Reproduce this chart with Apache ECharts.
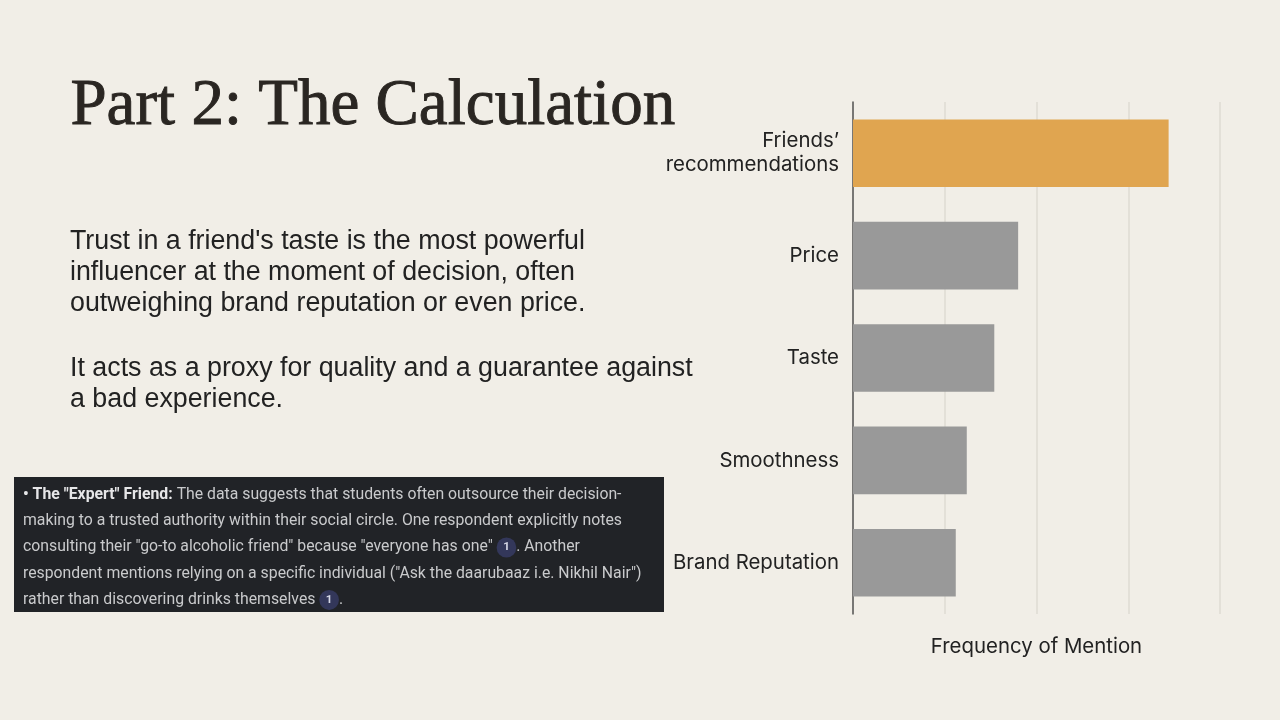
<!DOCTYPE html>
<html><head><meta charset="utf-8">
<script src="https://cdn.jsdelivr.net/npm/echarts@6/dist/echarts.min.js"></script>
<style>html,body{margin:0;padding:0;background:#f1eee7}#c{width:1280px;height:720px}</style>
</head><body><div id="c"></div>
<script>
const categories = ["Friends’\nrecommendations", "Price", "Taste", "Smoothness", "Brand Reputation"];
const values = [86, 45, 38.5, 31, 28];
const highlight = [true, false, false, false, false];
const xTicks = [0, 25, 50, 75, 100];
const titleText = "Part 2: The Calculation";
const bodyLines1 = ["Trust in a friend's taste is the most powerful", "influencer at the moment of decision, often", "outweighing brand reputation or even price."];
const bodyLines2 = ["It acts as a proxy for quality and a guarantee against", "a bad experience."];
const axisName = "Frequency of Mention";

const chart = echarts.init(document.getElementById('c'), null, {renderer: 'canvas'});
const sans = "Inter, 'Noto Sans', sans-serif";
const body = "'Liberation Sans', Arial, sans-serif";
const ui = "Roboto, 'Liberation Sans', sans-serif";

const boxX = 14, boxY = 477, boxW = 650, boxH = 135;
const boxLines = [
  [{b:"• The \"Expert\" Friend: "},{t:"The data suggests that students often outsource their decision-"}],
  [{t:"making to a trusted authority within their social circle. One respondent explicitly notes"}],
  [{t:"consulting their \"go-to alcoholic friend\" because \"everyone has one\" "},{c:"1"},{t:". Another"}],
  [{t:"respondent mentions relying on a specific individual (\"Ask the daarubaaz i.e. Nikhil Nair\")"}],
  [{t:"rather than discovering drinks themselves "},{c:"1"},{t:"."}]
];

function richLine(parts){
  return parts.map(p => p.b ? '{b|' + p.b + '}' : p.c ? '{c|' + p.c + '}' : '{t|' + p.t + '}').join('');
}

const LH = 26.2;
const graphics = [
  {type:'rect', shape:{x:boxX, y:boxY, width:boxW, height:boxH}, style:{fill:'#212327'}, z:-1},
  {type:'text', left:70, top:74, style:{text:titleText, font:"400 65px 'Liberation Serif', 'DejaVu Serif', serif", fill:'#2a2622', stroke:'#2a2622', lineWidth:0.9}},
  {type:'text', left:70, top:226, style:{text:bodyLines1.join('\n'), font:"400 26.8px " + body, fill:'#222', lineHeight:31}},
  {type:'text', left:70, top:353, style:{text:bodyLines2.join('\n'), font:"400 26.8px " + body, fill:'#222', lineHeight:31}},
  {type:'text', left:23, top:482, style:{
    text: boxLines.map(richLine).join('\n'),
    lineHeight: LH,
    rich:{
      t:{fontFamily:ui, fontSize:15.8, fill:'#c9cacc', lineHeight:LH},
      b:{fontFamily:ui, fontSize:15.8, fontWeight:'bold', fill:'#e6e6e8', lineHeight:LH},
      c:{fontFamily:ui, fontSize:11.5, fontWeight:'bold', fill:'#d6d8e6', backgroundColor:'#33375a', borderRadius:10, padding:[4,6.5], lineHeight:LH}
    }
  }}
];

chart.setOption({
  backgroundColor:'#f1eee7',
  animation:false,
  graphic: graphics,
  grid:{left:853, top:102, width:367, height:512, containLabel:false},
  xAxis:{
    type:'value', min:xTicks[0], max:xTicks[xTicks.length-1], interval:25,
    name: axisName, nameLocation:'middle', nameGap:23,
    nameTextStyle:{fontFamily:sans, fontSize:20.4, color:'#222'},
    axisLine:{show:false}, axisTick:{show:false}, axisLabel:{show:false},
    splitLine:{show:true, lineStyle:{color:'#dedbd3', width:1.5}}
  },
  yAxis:{
    type:'category', data:categories, inverse:true,
    axisLine:{show:true, lineStyle:{color:'#555', width:1.5}},
    axisTick:{show:false},
    axisLabel:{fontFamily:sans, fontSize:20.4, color:'#222', margin:14, lineHeight:24, align:'right'}
  },
  series:[{
    type:'bar', barCategoryGap:'34%',
    data: values.map((v,i)=>({value:v, itemStyle:{color: highlight[i] ? '#e0a550' : '#999999'}})),
    silent:true
  }]
});
</script></body></html>
